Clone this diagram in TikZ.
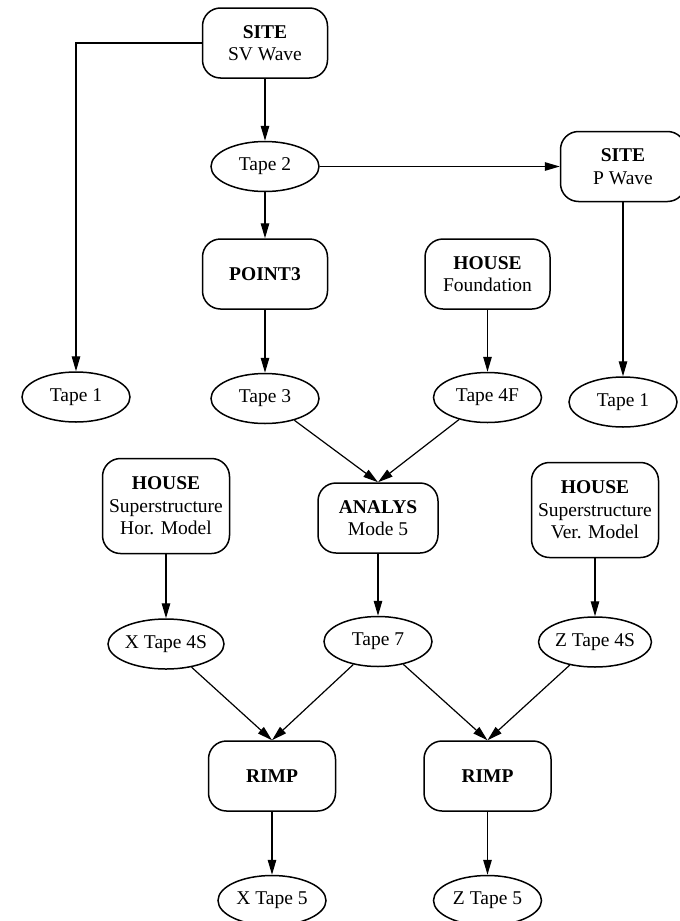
\documentclass[tikz,border=0pt]{standalone}
\usepackage{fontspec}
\setmainfont{Liberation Serif}
\usetikzlibrary{arrows.meta, positioning, shapes.geometric}

\begin{document}
\begin{tikzpicture}[x=1pt, y=1pt,
      font=\fontsize{19.5}{22.5}\selectfont,
      box/.style={draw, line width=1.5pt, rounded corners=18pt,
                  minimum width=125pt, minimum height=70pt,
                  inner sep=2pt, align=center},
      tallbox/.style={box, minimum width=127pt, minimum height=95pt},
      tape/.style={draw, ellipse, line width=1.5pt, minimum width=108pt,
                   minimum height=50pt, inner sep=0pt},
      a/.style={-{Triangle[length=15pt, width=8.5pt]}, line width=1.2pt}]
    \useasboundingbox (0,0) rectangle (680,-921);
    % upper part: site response
    \node[box] (sv) at (265,-43) {\textbf{SITE}\\SV Wave};
    \node[tape, below=62pt of sv] (t2) {Tape 2};
    \node[box, below=46pt of t2] (pt3) {\textbf{POINT3}};
    \node[tape, below=63pt of pt3] (t3) {Tape 3};
    \node[box, right=240pt of t2] (pw) {\textbf{SITE}\\P Wave};
    \node[tape, below=174pt of pw] (t1r) {Tape 1};
    \node[tape] (t1l) at (76,-397) {Tape 1};
    \node[box, right=96pt of pt3] (hf) {\textbf{HOUSE}\\Foundation};
    \node[tape, below=62pt of hf] (t4f) {Tape 4F};
    % middle part: analysis and superstructure
    \node[box, minimum width=120pt] (an) at (378,-518) {\textbf{ANALYS}\\Mode 5};
    \node[tallbox] (hh) at (166,-506) {\textbf{HOUSE}\\Superstructure\\Hor. Model};
    \node[tallbox] (hv) at (595,-510) {\textbf{HOUSE}\\Superstructure\\Ver. Model};
    \node[tape, below=64pt of hh] (x4s) {X Tape 4S};
    \node[tape, below=62pt of an] (t7) {Tape 7};
    \node[tape, below=58pt of hv] (z4s) {Z Tape 4S};
    % lower part: response in x and z
    \node[box, minimum width=127pt] (r1) at (272,-776) {\textbf{RIMP}};
    \node[box, minimum width=127pt, right=87pt of r1] (r2) {\textbf{RIMP}};
    \node[tape, below=63pt of r1] (x5) {X Tape 5};
    \node[tape, below=63pt of r2] (z5) {Z Tape 5};
    \draw[a] (sv) -- (t2); \draw[a] (sv) -| (t1l);
    \draw[a] (t2) -- (pt3); \draw[a] (t2) -- (pw); \draw[a] (pw) -- (t1r);
    \draw[a] (pt3) -- (t3); \draw[a] (hf) -- (t4f);
    \draw[a] (t3) -- (an.north); \draw[a] (t4f) -- (an.north);
    \draw[a] (hh) -- (x4s); \draw[a] (an) -- (t7); \draw[a] (hv) -- (z4s);
    \draw[a] (x4s) -- (r1.north); \draw[a] (t7) -- (r1.north);
    \draw[a] (t7) -- (r2.north); \draw[a] (z4s) -- (r2.north);
    \draw[a] (r1) -- (x5); \draw[a] (r2) -- (z5);
  \end{tikzpicture}
\end{document}
